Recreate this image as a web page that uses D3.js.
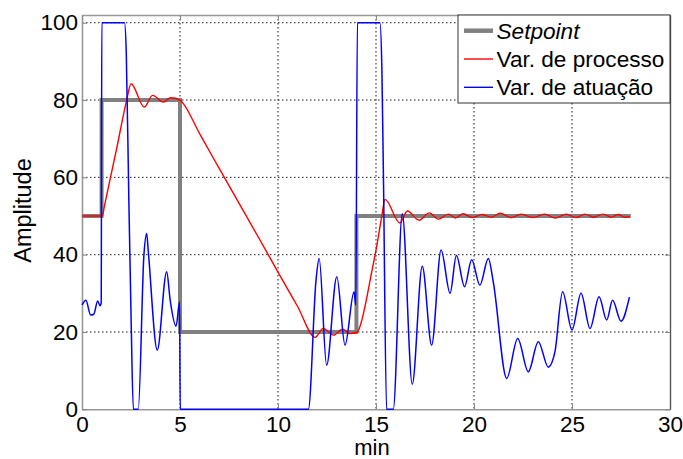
<!DOCTYPE html>
<html>
<head>
<meta charset="utf-8">
<script src="https://cdn.jsdelivr.net/npm/d3@7"></script>
<style>
    html, body { margin: 0; padding: 0; background: #fff; }
    svg { display: block; font-family: "Liberation Sans", Arial, sans-serif; }
</style>
</head>
<body>
<div id="chart"></div>
<script>
// values (time in min)
const setpointTime  = [0, 1, 5, 14, 28];
const setpointValue = [50, 80, 20, 50, 50];

const processTime  = [0, 1.04, 1.14, 1.77, 2.28, 2.5, 3.18, 3.6, 4.15, 4.52, 5.0, 5.15, 6, 7, 8, 9, 10, 11, 11.9,
    12.3, 12.83, 13.3, 13.67, 14.05, 14.15, 14.8, 15.03, 15.29, 15.46, 16.22, 16.6, 17.2, 17.72,
    18.18, 18.69, 19.05, 19.45, 19.9, 20.4, 20.9, 21.33, 21.9, 22.4, 23.0, 23.6, 24.15, 24.7,
    25.2, 25.66, 26.1, 26.58, 27.0, 27.35, 27.7, 27.95];
const processValue = [50, 50, 52.5, 67.5, 80, 84.2, 78.2, 81.2, 79.5, 80.6, 80, 79.2, 71.3, 62.3, 53.4, 44.5, 35.5, 26.6, 18.6,
    20.9, 19.2, 20.7, 19.6, 20, 21, 36, 42, 49.8, 54.3, 48.2, 51.3, 48.9, 50.8,
    49.2, 50.5, 49.5, 50.6, 49.6, 50.4, 49.7, 50.7, 49.6, 50.5, 49.6, 50.5, 49.5, 50.5,
    49.6, 50.5, 49.7, 50.5, 49.7, 50.4, 49.7, 49.8];

const actuationTime  = [0, 0.2, 0.44, 0.6, 0.8, 0.92, 0.98, 1.01, 2.17, 2.26, 2.39, 2.5, 2.62,
    2.87, 3.16, 3.3, 3.38, 3.84, 4.32, 4.5, 4.8, 4.98, 5.01, 11.55, 11.94, 12.1, 12.48, 13.0,
    13.42, 13.88, 13.97, 14.05, 15.2, 15.3, 15.38, 15.54, 15.88, 16.34, 16.85, 17.36, 17.84,
    18.32, 18.78, 19.1, 19.52, 19.88, 20.3, 20.73, 20.99, 21.67, 22.23, 22.77, 23.28, 23.79,
    24.13, 24.52, 25.0, 25.46, 25.92, 26.38, 26.77, 27.07, 27.5, 27.93];
const actuationValue = [27, 28.2, 24.4, 24.6, 28, 26.8, 27.5, 100, 100, 92, 54, 25, 0,
    0, 40, 45.5, 41, 15.3, 35.6, 28.2, 21.5, 27.8, 0, 0, 33.4, 39, 11.4, 34.3,
    16.6, 30.4, 27, 100, 100, 88, 60, 0, 0, 50.6, 6.5, 37, 16.6,
    41.2, 30, 39.8, 31.7, 38.7, 32.1, 39, 32.7, 8, 18.3, 9.7, 17.5, 10.9,
    14.9, 30.4, 20.5, 30, 20.9, 29.1, 23.1, 28.2, 22.8, 29];

const xTicks = [0, 5, 10, 15, 20, 25, 30];
const yTicks = [0, 20, 40, 60, 80, 100];
const legendLabels = ['Setpoint', 'Var. de processo', 'Var. de atuação'];

(function() {
    'use strict';

    const width = 683, height = 459;
    const margin = { top: 15, right: 13, bottom: 49.7, left: 82 };
    const w = width - margin.left - margin.right;
    const h = height - margin.top - margin.bottom;

    const svg = d3.select('#chart').append('svg')
        .attr('width', width)
        .attr('height', height);

    const g = svg.append('g').attr('transform', `translate(${margin.left},${margin.top})`);

    const x = d3.scaleLinear().domain([0, 30]).range([0, w]);
    const y = d3.scaleLinear().domain([0, 102]).range([h, 0]);

    // dotted grid
    const grid = g.append('g').attr('class', 'grid')
        .attr('stroke', '#000')
        .attr('stroke-width', 0.9)
        .attr('stroke-dasharray', '1.5,2.5');
    grid.selectAll('line.vx')
        .data(xTicks.filter(d => d > 0 && d < 30))
        .enter().append('line')
        .attr('x1', d => x(d)).attr('x2', d => x(d))
        .attr('y1', 0).attr('y2', h);
    grid.selectAll('line.hy')
        .data(yTicks.filter(d => d > 0))
        .enter().append('line')
        .attr('x1', 0).attr('x2', w)
        .attr('y1', d => y(d)).attr('y2', d => y(d));

    // axes, ticks inside on all four sides
    const styleAxis = (sel, color, width) => {
        sel.select('.domain').attr('stroke', color).attr('stroke-width', width);
        sel.selectAll('.tick line').attr('stroke', '#888').attr('stroke-width', 1);
        sel.selectAll('.tick text')
            .attr('fill', '#000')
            .style('font-size', '22.5px');
    };

    g.append('g')
        .attr('transform', `translate(0,${h})`)
        .call(d3.axisBottom(x).tickValues(xTicks).tickFormat(d3.format('d'))
            .tickSize(-5).tickSizeOuter(0).tickPadding(7))
        .call(sel => styleAxis(sel, '#999', 1.6));

    g.append('g')
        .call(d3.axisLeft(y).tickValues(yTicks).tickFormat(d3.format('d'))
            .tickSize(-5).tickSizeOuter(0).tickPadding(4))
        .call(sel => styleAxis(sel, '#999', 1.6));

    g.append('g')
        .call(d3.axisTop(x).tickValues(xTicks).tickFormat('')
            .tickSize(-5).tickSizeOuter(0))
        .call(sel => styleAxis(sel, '#999', 1.4));

    g.append('g')
        .attr('transform', `translate(${w},0)`)
        .call(d3.axisRight(y).tickValues(yTicks).tickFormat('')
            .tickSize(-5).tickSizeOuter(0))
        .call(sel => styleAxis(sel, '#555', 1.4));

    g.selectAll('.domain').attr('fill', 'none');

    // series
    const setpointLine = d3.line()
        .x((d, i) => x(setpointTime[i]))
        .y(d => y(d))
        .curve(d3.curveStepAfter);

    const smoothLine = times => d3.line()
        .x((d, i) => x(times[i]))
        .y(d => y(d))
        .curve(d3.curveMonotoneX);

    g.append('path')
        .datum(setpointValue)
        .attr('fill', 'none')
        .attr('stroke', '#808080')
        .attr('stroke-width', 4)
        .attr('d', setpointLine);

    g.append('path')
        .datum(processValue)
        .attr('fill', 'none')
        .attr('stroke', '#ff0000')
        .attr('stroke-width', 1.4)
        .attr('stroke-linejoin', 'round')
        .attr('d', smoothLine(processTime));

    g.append('path')
        .datum(actuationValue)
        .attr('fill', 'none')
        .attr('stroke', '#0000ff')
        .attr('stroke-width', 1.5)
        .attr('stroke-linejoin', 'round')
        .attr('d', smoothLine(actuationTime));

    // axis titles
    svg.append('text')
        .attr('x', 372).attr('y', 455)
        .attr('text-anchor', 'middle')
        .style('font-size', '22px')
        .text('min');

    svg.append('text')
        .attr('transform', 'translate(31,210.5) rotate(-90)')
        .attr('text-anchor', 'middle')
        .style('font-size', '23.5px')
        .text('Amplitude');

    // legend
    const legend = svg.append('g').attr('transform', 'translate(458,15)');
    legend.append('rect')
        .attr('width', 212).attr('height', 88)
        .attr('fill', '#fff')
        .attr('stroke', '#333')
        .attr('stroke-width', 1);

    const legendColors = ['#808080', '#ff0000', '#0000ff'];
    const legendWidths = [4.5, 1.4, 1.4];
    const rows = legend.selectAll('g.row')
        .data(legendLabels)
        .enter().append('g')
        .attr('transform', (d, i) => `translate(0,${15.7 + i * 28.3})`);

    rows.append('line')
        .attr('x1', 6).attr('x2', 35)
        .attr('stroke', (d, i) => legendColors[i])
        .attr('stroke-width', (d, i) => legendWidths[i]);

    rows.append('text')
        .attr('x', 38.5).attr('y', 8)
        .style('font-size', '22.6px')
        .style('font-style', (d, i) => i === 0 ? 'italic' : 'normal')
        .text(d => d);
})();
</script>
</body>
</html>
